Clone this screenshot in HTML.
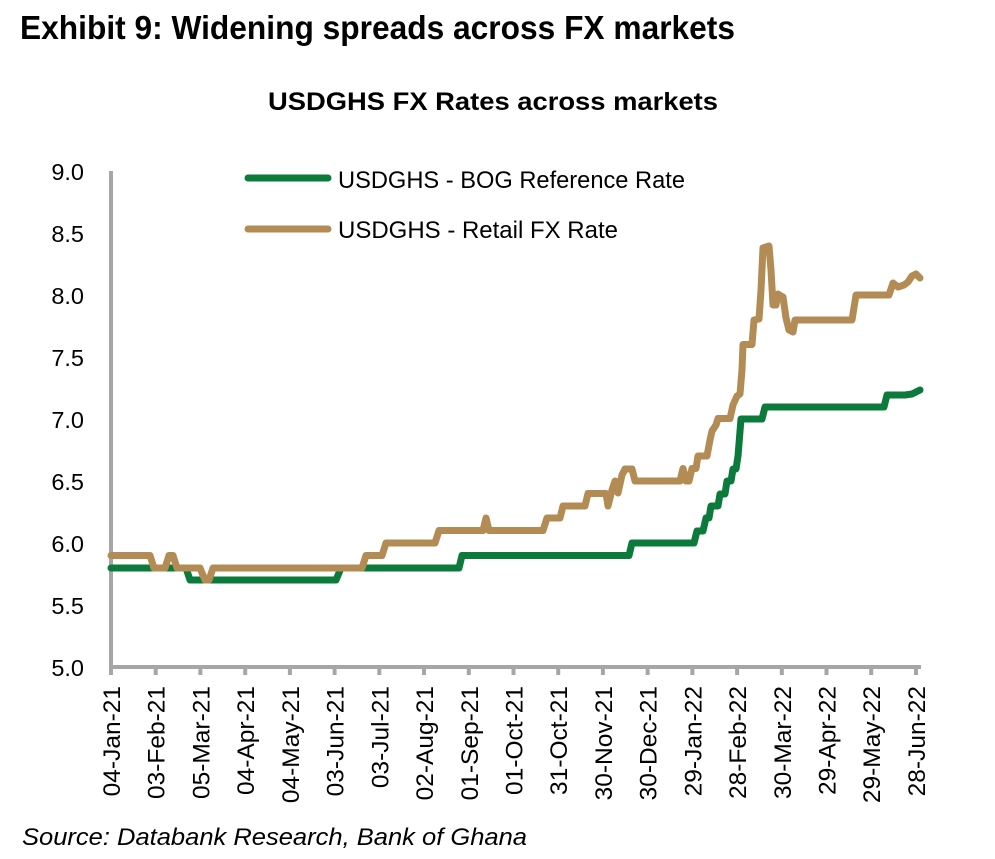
<!DOCTYPE html>
<html>
<head>
<meta charset="utf-8">
<style>
  html,body{margin:0;padding:0;background:#fff;}
  svg{display:block;}
  text{font-family:"Liberation Sans",sans-serif;fill:#000;}
</style>
</head>
<body>
<svg width="995" height="859" viewBox="0 0 995 859" xmlns="http://www.w3.org/2000/svg">
  <rect x="0" y="0" width="995" height="859" fill="#fff"/>
  <!-- Titles -->
  <text x="20" y="39" font-size="33" font-weight="bold" textLength="715" lengthAdjust="spacingAndGlyphs">Exhibit 9:  Widening spreads across FX markets</text>
  <text x="268" y="110" font-size="25" font-weight="bold" textLength="450" lengthAdjust="spacingAndGlyphs">USDGHS FX Rates across markets</text>

  <!-- Legend -->
  <line x1="248" y1="178" x2="328" y2="178" stroke="#0b7a3b" stroke-width="7" stroke-linecap="round"/>
  <text x="338" y="188" font-size="24" textLength="347" lengthAdjust="spacingAndGlyphs">USDGHS - BOG Reference Rate</text>
  <line x1="248" y1="229" x2="328" y2="229" stroke="#b38b54" stroke-width="7" stroke-linecap="round"/>
  <text x="338" y="238" font-size="24" textLength="280" lengthAdjust="spacingAndGlyphs">USDGHS - Retail FX Rate</text>

  <!-- Y axis labels -->
  <g font-size="23.5" text-anchor="end">
    <text x="84" y="180">9.0</text>
    <text x="84" y="242">8.5</text>
    <text x="84" y="304">8.0</text>
    <text x="84" y="366">7.5</text>
    <text x="84" y="428">7.0</text>
    <text x="84" y="490">6.5</text>
    <text x="84" y="552">6.0</text>
    <text x="84" y="614">5.5</text>
    <text x="84" y="676">5.0</text>
  </g>

  <!-- Axes -->
  <line x1="111" y1="171" x2="111" y2="669" stroke="#a6a6a6" stroke-width="4"/>
  <line x1="109" y1="667" x2="921" y2="667" stroke="#a6a6a6" stroke-width="4"/>
  <g stroke="#a6a6a6" stroke-width="4">
    <line x1="111" y1="667" x2="111" y2="675"/>
    <line x1="155.7" y1="667" x2="155.7" y2="675"/>
    <line x1="200.4" y1="667" x2="200.4" y2="675"/>
    <line x1="245.2" y1="667" x2="245.2" y2="675"/>
    <line x1="289.9" y1="667" x2="289.9" y2="675"/>
    <line x1="334.6" y1="667" x2="334.6" y2="675"/>
    <line x1="379.3" y1="667" x2="379.3" y2="675"/>
    <line x1="424" y1="667" x2="424" y2="675"/>
    <line x1="468.8" y1="667" x2="468.8" y2="675"/>
    <line x1="513.5" y1="667" x2="513.5" y2="675"/>
    <line x1="558.2" y1="667" x2="558.2" y2="675"/>
    <line x1="602.9" y1="667" x2="602.9" y2="675"/>
    <line x1="647.6" y1="667" x2="647.6" y2="675"/>
    <line x1="692.4" y1="667" x2="692.4" y2="675"/>
    <line x1="737.1" y1="667" x2="737.1" y2="675"/>
    <line x1="781.8" y1="667" x2="781.8" y2="675"/>
    <line x1="826.5" y1="667" x2="826.5" y2="675"/>
    <line x1="871.2" y1="667" x2="871.2" y2="675"/>
    <line x1="916" y1="667" x2="916" y2="675"/>
  </g>

  <!-- X axis labels -->
  <g font-size="24.5" text-anchor="end">
    <text transform="translate(120,686) rotate(-90)">04-Jan-21</text>
    <text transform="translate(164.7,686) rotate(-90)">03-Feb-21</text>
    <text transform="translate(209.4,686) rotate(-90)">05-Mar-21</text>
    <text transform="translate(254.2,686) rotate(-90)">04-Apr-21</text>
    <text transform="translate(298.9,686) rotate(-90)">04-May-21</text>
    <text transform="translate(343.6,686) rotate(-90)">03-Jun-21</text>
    <text transform="translate(388.3,686) rotate(-90)">03-Jul-21</text>
    <text transform="translate(433,686) rotate(-90)">02-Aug-21</text>
    <text transform="translate(477.8,686) rotate(-90)">01-Sep-21</text>
    <text transform="translate(522.5,686) rotate(-90)">01-Oct-21</text>
    <text transform="translate(567.2,686) rotate(-90)">31-Oct-21</text>
    <text transform="translate(611.9,686) rotate(-90)">30-Nov-21</text>
    <text transform="translate(656.6,686) rotate(-90)">30-Dec-21</text>
    <text transform="translate(701.4,686) rotate(-90)">29-Jan-22</text>
    <text transform="translate(746.1,686) rotate(-90)">28-Feb-22</text>
    <text transform="translate(790.8,686) rotate(-90)">30-Mar-22</text>
    <text transform="translate(835.5,686) rotate(-90)">29-Apr-22</text>
    <text transform="translate(880.2,686) rotate(-90)">29-May-22</text>
    <text transform="translate(925,686) rotate(-90)">28-Jun-22</text>
  </g>

  <!-- Series: BOG (green) -->
  <polyline fill="none" stroke="#0b7a3b" stroke-width="7" stroke-linejoin="round" stroke-linecap="round"
    points="111,568 186,568 190,580 336,580 341,568 459,568 462,555.5 629,555.5 632,543 694,543 697,531 703,531 706,518 709,518 711,506 718,506 720,494 725,494 727,481 731,481 733,469 736,469 738,456 741,419 762,419 765,407 884,407 887,395 905,395 912,394 920,390"/>

  <!-- Series: Retail (tan) -->
  <polyline fill="none" stroke="#b38b54" stroke-width="7" stroke-linejoin="round" stroke-linecap="round"
    points="111,555.5 150,555.5 154,568 165,568 169,555.5 173,555.5 177,568 200,568 205,580 209,580 213,568 362,568 366,555.5 382,555.5 386,543 435,543 439,530.5 483,530.5 486,518 489,530.5 543,530.5 547,518 560,518 563,506 585,506 588,493.5 606,493.5 608,506 612,490 615,481 618,493 622,475 625,469 632,469 635,481 680,481 683,468.5 686,481 689,481 692,468.5 696,468.5 698,456 707,456 710,440 712,431 716,425 718,418.5 730,418.5 733,405 737,396 740,394 742,370 743,344.5 752,344.5 754,320 759,319 761,290 763,248 769,246 771,270 773,305 776,305 778,294 781,296 783,297 786,318 789,330 793,332 795,320 852,320 856,295 889,295 893,283 898,287 904,285 908,282 912,276 916,274 920,278"/>

  <!-- Source -->
  <text x="22" y="845" font-size="24" font-style="italic" textLength="505" lengthAdjust="spacingAndGlyphs">Source: Databank Research, Bank of Ghana</text>
</svg>
</body>
</html>
